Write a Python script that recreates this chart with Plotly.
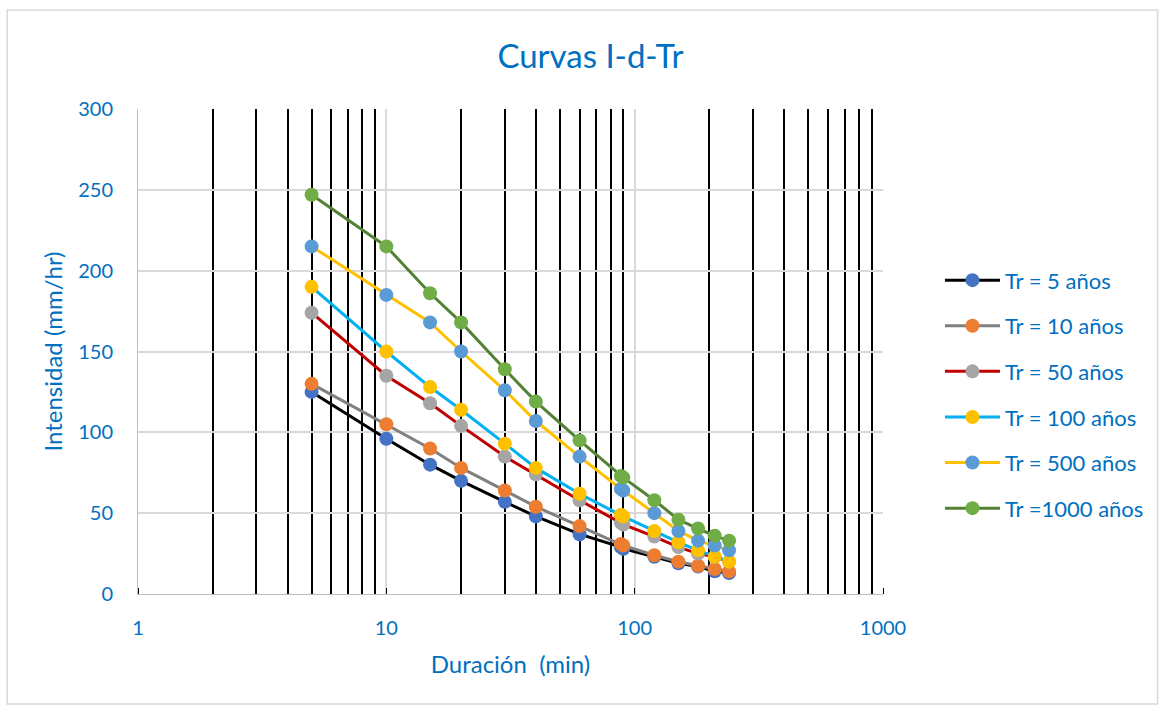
import plotly.graph_objects as go

durations = [5, 10, 15, 20, 30, 40, 60, 88, 90, 120, 150, 180, 210, 240]

tr5 = [125, 96, 80, 70, 57, 48, 37, 29, 28, 23, 19, 17, 14, 13]
tr10 = [130, 105, 90, 78, 64, 54, 42, 31, 30, 24, 20, 17.5, 15.5, 14]
tr50 = [174, 135, 118, 104, 85, 74, 58, 44, 43, 35.5, 29, 25, 23, 20]
tr100 = [190, 150, 128, 114, 93, 78, 62, 49, 48, 39, 32, 27, 23, 20]
tr500 = [215, 185, 168, 150, 126, 107, 85, 65, 64, 50, 39, 33, 30, 27]
tr1000 = [247, 215, 186, 168, 139, 119, 95, 73, 72, 58, 46, 40.5, 36, 33]

names = ["Tr = 5 años", "Tr = 10 años", "Tr = 50 años", "Tr = 100 años",
         "Tr = 500 años", "Tr =1000 años"]
series = [tr5, tr10, tr50, tr100, tr500, tr1000]
line_colors = ["#000000", "#808080", "#C00000", "#00B0F0", "#FFC000", "#548235"]
marker_colors = ["#4472C4", "#ED7D31", "#A5A5A5", "#FFC000", "#5B9BD5", "#70AD47"]

blue = "#0070C0"
font_family = "Lato, 'Open Sans', sans-serif"

fig = go.Figure()
for i, (nm, ys) in enumerate(zip(names, series)):
    fig.add_trace(go.Scatter(
        x=durations, y=ys, name=nm, mode="lines+markers",
        line=dict(color=line_colors[i], width=3),
        marker=dict(color=marker_colors[i], size=14),
        legendgroup=str(i),
    ))

fig.update_layout(
    width=1160, height=705,
    margin=dict(l=138, r=276, t=109, b=111),
    paper_bgcolor="white", plot_bgcolor="white",
    font=dict(family=font_family, color=blue, size=20),
    title=dict(text="Curvas I-d-Tr", x=0.509, xanchor="center", y=0.92, yanchor="middle",
               font=dict(size=33, color=blue, family=font_family)),
    legend=dict(x=1.075, y=0.69, xanchor="left", yanchor="top",
                font=dict(size=22, color=blue), tracegroupgap=14,
                itemwidth=55, bgcolor="rgba(0,0,0,0)"),
    showlegend=True,
)

fig.update_xaxes(
    type="log", range=[0, 3],
    tickvals=[1, 10, 100, 1000], ticktext=["1", "10", "100", "1000"],
    showgrid=True, gridcolor="#D9D9D9", gridwidth=2,
    showline=True, linecolor="#BFBFBF", linewidth=1,
    ticks="", ticklabelstandoff=16,
    minor=dict(showgrid=True, gridcolor="black", gridwidth=2, dtick="D1",
               ticks="inside", ticklen=6, tickcolor="black"),
    title=dict(text="Duración  (min)", font=dict(size=24, color=blue), standoff=18),
    zeroline=False,
)
fig.update_yaxes(
    range=[0, 300], dtick=50,
    showgrid=True, gridcolor="#D9D9D9", gridwidth=2,
    showline=True, linecolor="#BFBFBF", linewidth=1,
    ticks="", ticklabelstandoff=20,
    title=dict(text="Intensidad (mm/hr)", font=dict(size=24, color=blue), standoff=8),
    zeroline=False,
)

# outer chart border
fig.add_shape(type="rect", xref="paper", yref="paper",
              x0=(7 - 138) / 746, x1=(1159 - 138) / 746,
              y0=(594 - 704) / 485, y1=(594 - 10) / 485,
              line=dict(color="#D9D9D9", width=1.5), fillcolor="rgba(0,0,0,0)",
              layer="below")

fig.write_html("out.html")
